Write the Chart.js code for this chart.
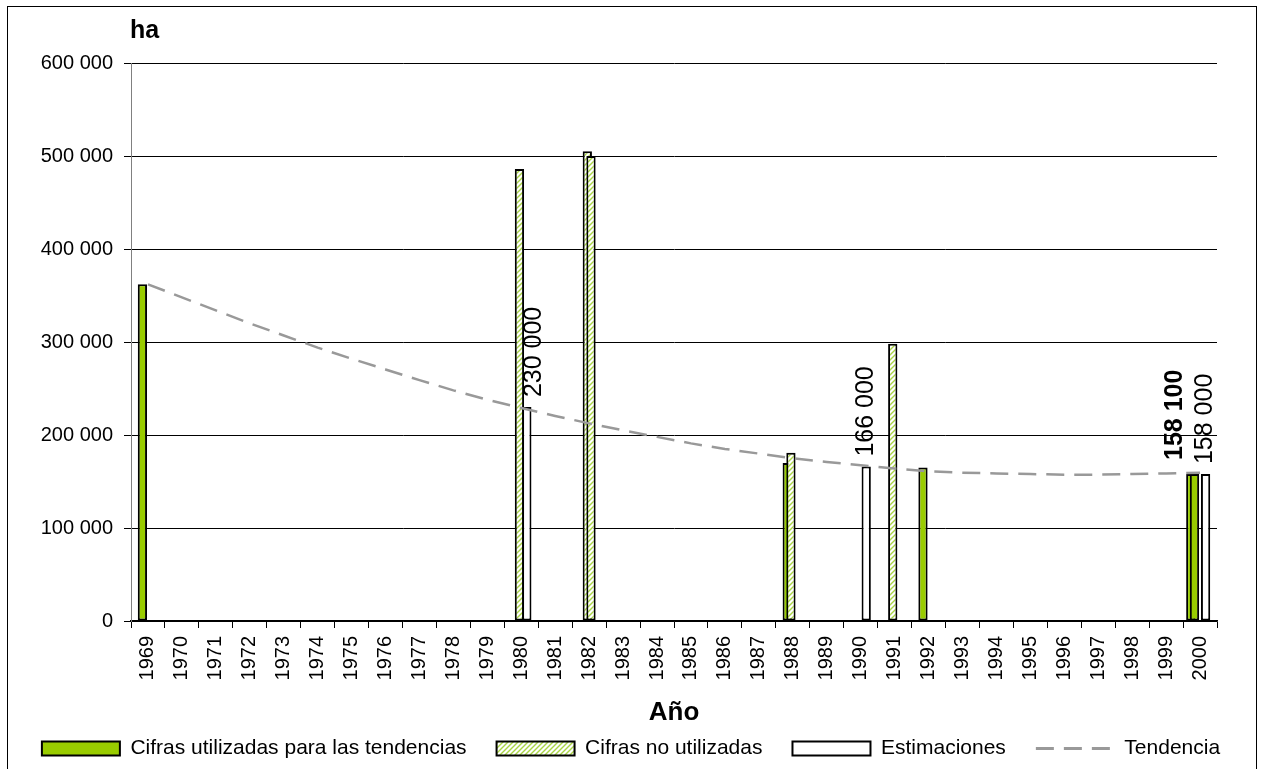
<!DOCTYPE html>
<html>
<head>
<meta charset="utf-8">
<title>Superficie (ha), 1969-2000</title>
<script src="https://cdn.jsdelivr.net/npm/chart.js@4.4.1/dist/chart.umd.min.js"></script>
<style>
  html, body { margin: 0; padding: 0; background: #fff; overflow: hidden; }
  #frame { position: absolute; left: 7px; top: 6px; width: 1248px; height: 800px; border: 1px solid #000; }
  #chart { position: absolute; left: 0; top: 0; }
</style>
</head>
<body>
<div id="frame"></div>
<canvas id="chart" width="1262" height="769"></canvas>
<script>
// x axis categories
const years = [1969, 1970, 1971, 1972, 1973, 1974, 1975, 1976, 1977, 1978, 1979, 1980, 1981, 1982, 1983, 1984,
               1985, 1986, 1987, 1988, 1989, 1990, 1991, 1992, 1993, 1994, 1995, 1996, 1997, 1998, 1999, 2000];

// bar values by year (ha)
const usedForTrend = { 1969: 362000, 1988: 170000, 1992: 165000, 2000: 158100 };
const usedForTrend2 = { 2000: 158100 };          // second bar stacked over 2000
const notUsed = { 1980: 486000, 1982: 505000, 1988: 181000, 1991: 298000 };
const notUsed2 = { 1982: 500000 };
const estimates = { 1980: 230000, 1990: 166000, 2000: 158000 };

// trend line, one value per year
const trend = [362000, 348000, 334000, 320000, 307000, 294000, 282000, 270500, 259000, 248000, 238000,
               229000, 220500, 212500, 205000, 198000, 191000, 185000, 180000, 175000, 171000, 167500,
               164000, 161000, 159500, 158700, 158000, 157300, 157400, 158000, 158700, 159500];

// y axis ticks
const yMin = 0, yMax = 600000, yStep = 100000;

const FONT = '"Liberation Sans", Arial, sans-serif';
Chart.defaults.font.family = FONT;
Chart.defaults.color = '#000';

function toSeries(obj) {
    return years.map(y => (obj[y] !== undefined ? obj[y] : null));
}

function formatNum(v) {
    return String(v).replace(/\B(?=(\d{3})+(?!\d))/g, ' ');
}

// diagonal green hatch for "Cifras no utilizadas"
function makeHatch() {
    const c = document.createElement('canvas');
    c.width = 5; c.height = 5;
    const g = c.getContext('2d');
    g.fillStyle = '#fff';
    g.fillRect(0, 0, 5, 5);
    g.strokeStyle = '#a9d444';
    g.lineWidth = 1.4;
    g.beginPath();
    g.moveTo(0, 5); g.lineTo(5, 0);
    g.moveTo(-1, 1); g.lineTo(1, -1);
    g.moveTo(4, 6); g.lineTo(6, 4);
    g.stroke();
    return g.createPattern(c, 'repeat');
}

const GREEN = '#99cc00';
const hatch = makeHatch();
const notUsedData = toSeries(notUsed);
const trendDash = [18, 10];

const barStyle = {
    type: 'bar',
    borderColor: '#000',
    borderWidth: 2,
    borderSkipped: false,
    categoryPercentage: 0.654,
    barPercentage: 2.51
};

// left bars drawn first, so bars to the right overlap them (like the original)
const drawOrderPlugin = {
    id: 'drawOrder',
    beforeDatasetsDraw(chart) {
        const metas = chart.getSortedVisibleDatasetMetas();
        metas.filter(m => m.type === 'bar').forEach(m => m.controller.draw());
        metas.filter(m => m.type === 'line').forEach(m => m.controller.draw());
        return false;
    }
};

// rotated value labels and the "ha" unit
const labelPlugin = {
    id: 'barLabels',
    afterDraw(chart) {
        const ctx = chart.ctx;
        ctx.save();
        ctx.fillStyle = '#000';
        [[4, false], [0, true]].forEach(([dsIndex, bold]) => {
            const meta = chart.getDatasetMeta(dsIndex);
            const data = chart.data.datasets[dsIndex].data;
            meta.data.forEach((bar, i) => {
                if (data[i] == null) return;
                const dx = bold ? -16 : (notUsedData[i] != null ? 7 : 0);
                ctx.save();
                ctx.font = (bold ? 'bold ' : '') + '25px ' + FONT;
                ctx.textAlign = 'left';
                ctx.textBaseline = 'middle';
                ctx.translate(bar.x + dx, bar.y - (bold ? 14 : 10));
                ctx.rotate(-Math.PI / 2);
                ctx.fillText(formatNum(data[i]), 0, 0);
                ctx.restore();
            });
        });
        ctx.font = 'bold 25px ' + FONT;
        ctx.textAlign = 'left';
        ctx.textBaseline = 'alphabetic';
        ctx.fillText('ha', chart.chartArea.left - 1, 38);
        ctx.restore();
    }
};

const legendSets = [1, 2, 4, 6];

new Chart(document.getElementById('chart'), {
    data: {
        labels: years.map(String),
        datasets: [
            { ...barStyle, label: 'Cifras utilizadas para las tendencias (2)', data: toSeries(usedForTrend2), backgroundColor: GREEN },
            { ...barStyle, label: 'Cifras utilizadas para las tendencias', data: toSeries(usedForTrend), backgroundColor: GREEN },
            { ...barStyle, label: 'Cifras no utilizadas', data: notUsedData, backgroundColor: hatch },
            { ...barStyle, label: 'Cifras no utilizadas (2)', data: toSeries(notUsed2), backgroundColor: hatch },
            { ...barStyle, label: 'Estimaciones', data: toSeries(estimates), backgroundColor: '#fff' },
            { ...barStyle, label: '', data: [], backgroundColor: '#fff' },
            {
                type: 'line',
                label: 'Tendencia',
                data: trend,
                borderColor: '#999999',
                borderWidth: 2.5,
                borderDash: trendDash,
                pointRadius: 0,
                fill: false,
                tension: 0
            }
        ]
    },
    options: {
        responsive: false,
        animation: false,
        layout: { padding: { top: 63, left: 0, right: 0, bottom: 0 } },
        plugins: {
            tooltip: { enabled: false },
            legend: {
                position: 'bottom',
                labels: {
                    font: { size: 21 },
                    color: '#000',
                    usePointStyle: true,
                    pointStyleWidth: 78,
                    boxHeight: 14,
                    padding: 30,
                    generateLabels(chart) {
                        const items = Chart.defaults.plugins.legend.labels.generateLabels(chart);
                        return items
                            .filter(it => legendSets.includes(it.datasetIndex))
                            .map(it => {
                                if (it.datasetIndex === 6) {
                                    return { ...it, pointStyle: 'line', strokeStyle: '#999999', lineWidth: 3, lineDash: trendDash };
                                }
                                return { ...it, pointStyle: 'rect', strokeStyle: '#000', lineWidth: 2, lineDash: [] };
                            });
                    }
                }
            }
        },
        scales: {
            x: {
                type: 'category',
                offset: true,
                grid: { drawOnChartArea: false, offset: true, tickLength: 7, color: '#000' },
                border: { color: '#000', width: 1.5 },
                ticks: { font: { size: 20 }, color: '#000', minRotation: 90, maxRotation: 90, autoSkip: false, padding: 8 },
                title: { display: true, text: 'Año', font: { size: 26, weight: 'bold' }, color: '#000', padding: { top: 0, bottom: -20 } },
                afterFit(scale) { scale.height = 87; }
            },
            y: {
                min: yMin,
                max: yMax,
                ticks: { stepSize: yStep, font: { size: 20 }, color: '#000', padding: 11, callback: v => formatNum(v) },
                grid: { color: '#000', lineWidth: 1, tickLength: 7, tickColor: '#000' },
                border: { color: '#808080', width: 1 },
                afterFit(scale) { scale.width = 131; }
            },
            yRight: {
                position: 'right',
                display: true,
                grid: { display: false, drawTicks: false },
                border: { display: false },
                ticks: { display: false },
                afterFit(scale) { scale.width = 45; }
            }
        }
    },
    plugins: [drawOrderPlugin, labelPlugin]
});
</script>
</body>
</html>
